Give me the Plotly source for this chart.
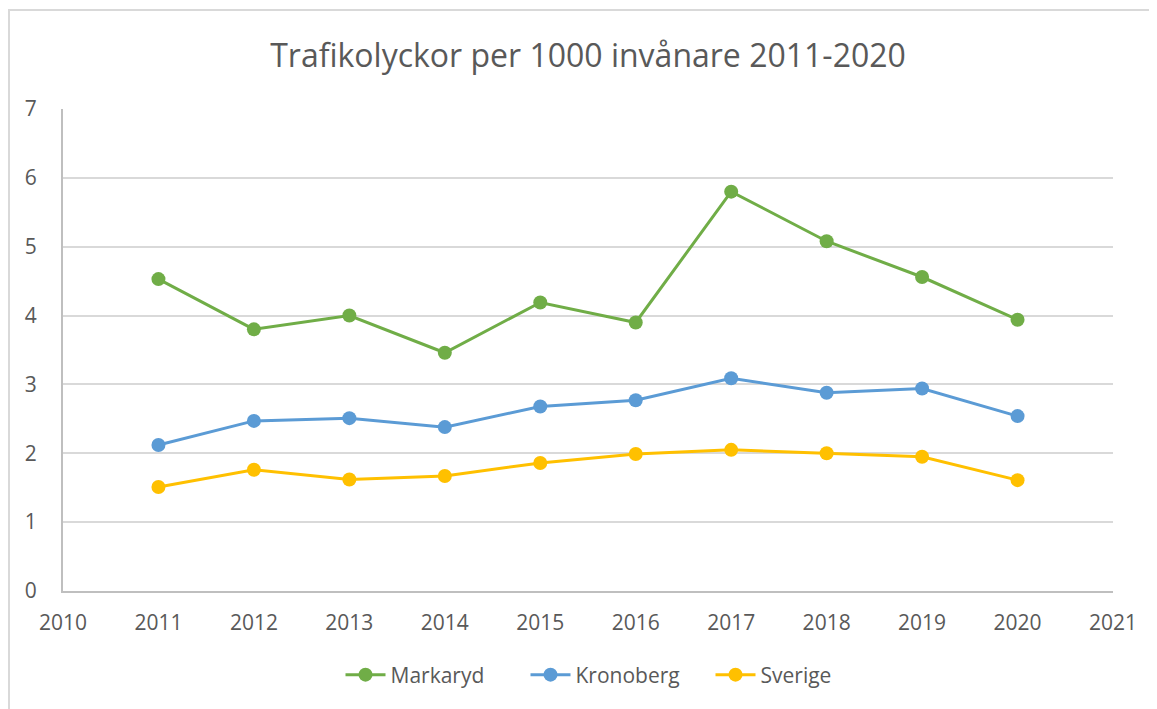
import plotly.graph_objects as go

# Data
years = [2011, 2012, 2013, 2014, 2015, 2016, 2017, 2018, 2019, 2020]
markaryd = [4.53, 3.80, 4.00, 3.46, 4.19, 3.90, 5.80, 5.08, 4.56, 3.94]
kronoberg = [2.12, 2.47, 2.51, 2.38, 2.68, 2.77, 3.09, 2.88, 2.94, 2.54]
sverige = [1.51, 1.76, 1.62, 1.67, 1.86, 1.99, 2.05, 2.00, 1.95, 1.61]

series = [
    ('Markaryd', markaryd, '#70AD47'),
    ('Kronoberg', kronoberg, '#5B9BD5'),
    ('Sverige', sverige, '#FFC000'),
]

FONT = 'Open Sans'
TEXT = '#595959'

fig = go.Figure()
for name, vals, color in series:
    fig.add_trace(go.Scatter(
        x=years,
        y=vals,
        name=name,
        mode='lines+markers',
        line=dict(color=color, width=3),
        marker=dict(color=color, size=14),
    ))

# the page body adds an 8px offset, so the figure itself is a bit smaller
OFF = 8
W, H = 1157 - OFF, 709 - OFF
# plot area in window pixels: left 63, right 1113, top 109, bottom 591
L, R, T, B = 63 - OFF, 44, 109 - OFF, 118
pw, ph = W - L - R, H - T - B

fig.update_layout(
    width=W, height=H,
    margin=dict(l=L, r=R, t=T, b=B),
    paper_bgcolor='white',
    plot_bgcolor='white',
    font=dict(family=FONT, color=TEXT, size=20),
    title=dict(
        text='Trafikolyckor per 1000 invånare 2011-2020',
        x=0.5, xref='paper', xanchor='center',
        y=1 - (56 - OFF) / H, yanchor='middle',
        font=dict(family=FONT, size=32, color=TEXT),
    ),
    legend=dict(
        orientation='h',
        x=0.5 + 30 / pw, xanchor='center',
        y=-(675 - 591) / ph, yanchor='middle',
        font=dict(size=21, color=TEXT),
        itemwidth=40,
        entrywidth=130, entrywidthmode='pixels',
    ),
    shapes=[dict(
        type='rect', xref='paper', yref='paper',
        x0=(9 - 63) / pw, x1=1.3,
        y0=-0.5, y1=1 + (109 - 10) / ph,
        line=dict(color='#d9d9d9', width=2),
        layer='below',
    )],
)

fig.update_xaxes(
    range=[2010, 2021],
    tick0=2010, dtick=1,
    showgrid=False,
    showline=True, linecolor='#bfbfbf', linewidth=2,
    zeroline=False,
    ticks='', ticklabelstandoff=12,
    tickfont=dict(size=21, color=TEXT),
)
fig.update_yaxes(
    range=[0, 7],
    dtick=1,
    showgrid=True, gridcolor='#d9d9d9', gridwidth=2,
    showline=True, linecolor='#bfbfbf', linewidth=2,
    zeroline=False,
    ticks='', ticklabelstandoff=20,
    tickfont=dict(size=21, color=TEXT),
)

fig.write_html("out.html")
